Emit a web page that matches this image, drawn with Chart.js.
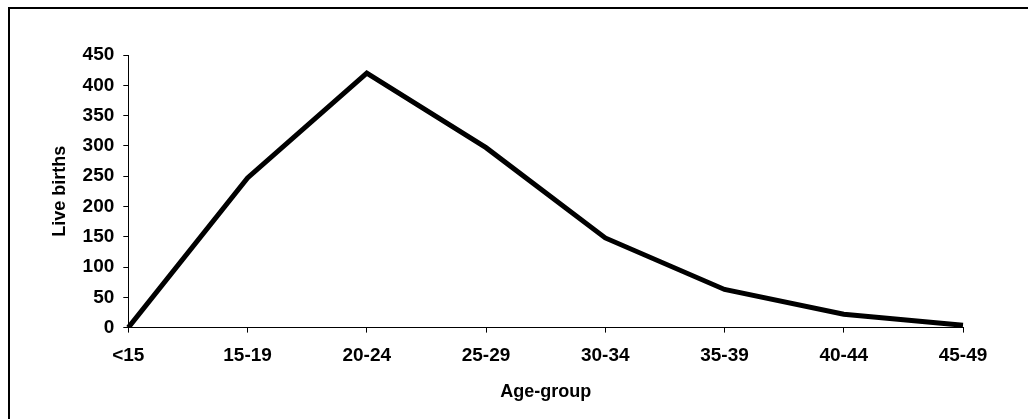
<!DOCTYPE html>
<html>
<head>
<meta charset="utf-8">
<script src="https://cdn.jsdelivr.net/npm/chart.js@4.4.1/dist/chart.umd.min.js"></script>
<style>
  html, body { margin: 0; padding: 0; background: #fff; overflow: hidden; }
  #frame { position: absolute; left: 8px; top: 7px; width: 1100px; height: 500px; border: 2px solid #000; box-sizing: border-box; }
  #wrap { position: absolute; left: 0; top: 0; width: 1028px; height: 419px; }
</style>
</head>
<body>
<div id="frame"></div>
<div id="wrap"><canvas id="myChart"></canvas></div>
<script>
const ageGroups = ['<15', '15-19', '20-24', '25-29', '30-34', '35-39', '40-44', '45-49'];
const liveBirths = [0, 247, 420, 297, 148, 63, 22, 4];

const tickFont = { size: 19, weight: 'bold', family: "'Liberation Sans', Arial, sans-serif" };
const titleFont = { size: 18, weight: 'bold', family: "'Liberation Sans', Arial, sans-serif" };

const ctx = document.getElementById('myChart');

new Chart(ctx, {
    type: 'line',
    data: {
        labels: ageGroups,
        datasets: [{
            label: 'Live births',
            data: liveBirths,
            borderColor: '#000',
            borderWidth: 5,
            borderJoinStyle: 'miter',
            pointRadius: 0,
            tension: 0
        }]
    },
    options: {
        responsive: true,
        maintainAspectRatio: false,
        animation: false,
        layout: {
            padding: { left: 45, right: 65, top: 55, bottom: 16 }
        },
        plugins: {
            legend: { display: false },
            tooltip: { enabled: false }
        },
        scales: {
            x: {
                offset: false,
                grid: { drawOnChartArea: false, tickLength: 5, color: '#000' },
                border: { color: '#000', width: 1 },
                ticks: { color: '#000', font: tickFont, padding: 12, maxRotation: 0 },
                title: {
                    display: true,
                    text: 'Age-group',
                    color: '#000',
                    font: titleFont,
                    padding: { top: 2, bottom: 0 }
                }
            },
            y: {
                min: 0,
                max: 450,
                grid: { drawOnChartArea: false, tickLength: 5, color: '#000' },
                border: { color: '#000', width: 1 },
                ticks: { stepSize: 50, color: '#000', font: tickFont, padding: 9 },
                title: {
                    display: true,
                    text: 'Live births',
                    color: '#000',
                    font: titleFont,
                    padding: { top: 4, bottom: 3 }
                }
            }
        }
    }
});
</script>
</body>
</html>
